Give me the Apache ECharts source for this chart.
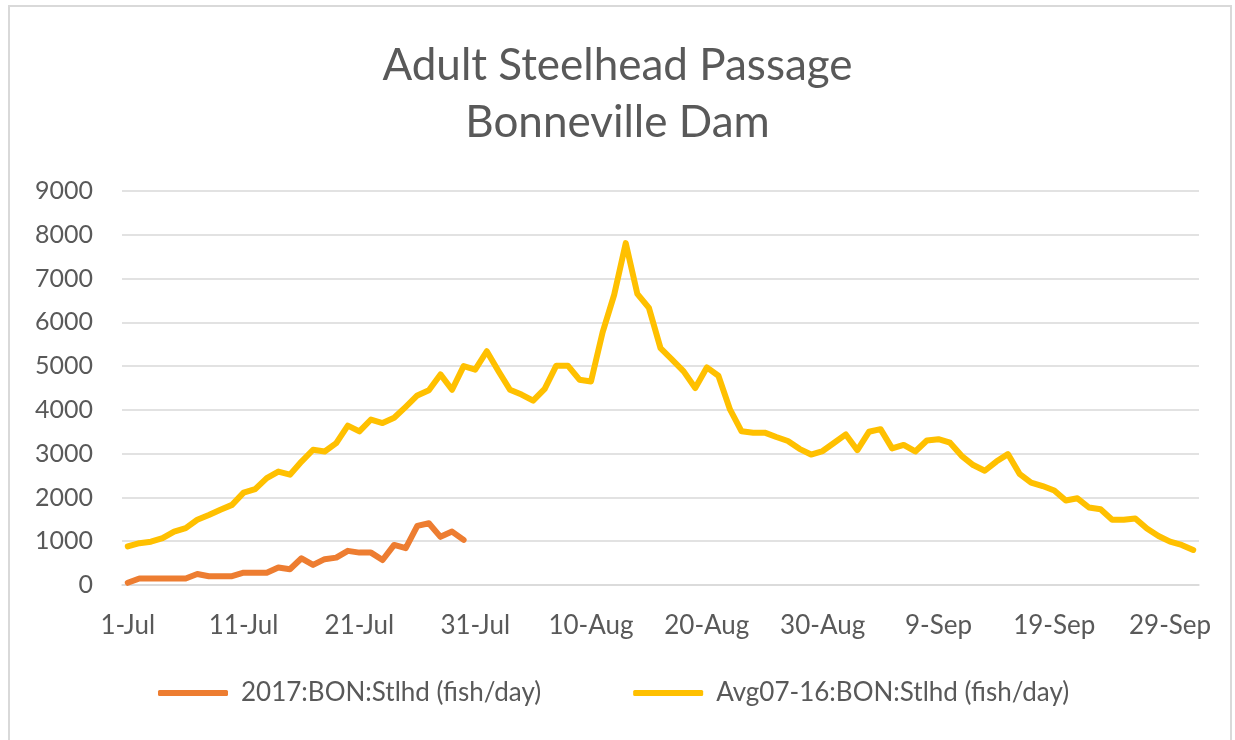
<!DOCTYPE html>
<html>
<head>
<meta charset="utf-8">
<title>Adult Steelhead Passage</title>
<script src="https://cdn.jsdelivr.net/npm/echarts@6/dist/echarts.min.js"></script>
<style>
  html, body { margin: 0; padding: 0; background: #fff; }
  #chart { width: 1235px; height: 740px; }
</style>
</head>
<body>
<div id="chart"></div>
<script>
// daily counts, 1-Jul .. 1-Oct
const months = ['Jul', 'Aug', 'Sep', 'Oct'];
const monthDays = [31, 31, 30, 1];

const y2017 = [
  50, 150, 150, 150, 150, 150, 250, 200, 200, 200,
  280, 280, 280, 400, 360, 610, 460, 590, 625, 780,
  740, 740, 570, 915, 840, 1350, 1410, 1100, 1220, 1030
];

const avg0716 = [
  880, 955, 990, 1070, 1220, 1300, 1490, 1600, 1720, 1830,
  2110, 2190, 2440, 2590, 2520, 2820, 3090, 3050, 3240, 3640,
  3510, 3780, 3700, 3820, 4070, 4330, 4450, 4810, 4460, 5000,
  4920, 5340, 4890, 4460, 4350, 4210, 4480, 5010, 5010, 4690,
  4650, 5770, 6630, 7810, 6650, 6330, 5410, 5150, 4880, 4500,
  4970, 4780, 4010, 3510, 3480, 3480, 3380, 3290, 3110, 2980,
  3060, 3250, 3440, 3080, 3500, 3560, 3120, 3200, 3050, 3300,
  3330, 3250, 2950, 2740, 2610, 2820, 2990, 2540, 2340, 2260,
  2160, 1930, 1980, 1770, 1730, 1490, 1490, 1520, 1290, 1120,
  990, 915, 800
];

const yTicks = [0, 9000, 1000]; // min, max, step

// build d-Mon labels
const days = [];
months.forEach((m, k) => {
  for (let d = 1; d <= monthDays[k]; d++) days.push(d + '-' + m);
});

const font = 'Lato, "Open Sans", sans-serif';
const grey = '#595959';

let myChart = echarts.init(document.getElementById('chart'));
let option = {
  animation: false,
  title: {
    text: 'Adult Steelhead Passage\nBonneville Dam',
    left: 'center',
    top: 32,
    textStyle: {
      fontFamily: font,
      fontWeight: 400,
      fontSize: 44,
      lineHeight: 57,
      color: grey
    }
  },
  legend: {
    left: 153,
    top: 675,
    itemWidth: 70,
    itemHeight: 6,
    itemGap: 92,
    icon: 'roundRect',
    textStyle: {
      fontFamily: font,
      fontSize: 26,
      color: grey,
      padding: [0, 0, 0, 8]
    },
    data: ['2017:BON:Stlhd (fish/day)', 'Avg07-16:BON:Stlhd (fish/day)']
  },
  grid: {
    left: 122,
    right: 36,
    top: 191,
    bottom: 155,
    containLabel: false
  },
  xAxis: {
    type: 'category',
    boundaryGap: true,
    data: days,
    axisLine: { lineStyle: { color: '#d9d9d9', width: 1.5 } },
    axisTick: {
      interval: 9,
      length: 10,
      lineStyle: { color: '#d9d9d9', width: 1.5 }
    },
    axisLabel: {
      interval: 9,
      margin: 28,
      fontFamily: font,
      fontSize: 26,
      color: grey
    },
    splitLine: { show: false }
  },
  yAxis: {
    type: 'value',
    min: yTicks[0],
    max: yTicks[1],
    interval: yTicks[2],
    axisLine: { show: false },
    axisTick: { show: false },
    axisLabel: {
      margin: 29,
      fontFamily: font,
      fontSize: 25,
      color: grey,
      formatter: v => String(v)
    },
    splitLine: { lineStyle: { color: '#d9d9d9', width: 1.5 } }
  },
  series: [
    {
      name: '2017:BON:Stlhd (fish/day)',
      type: 'line',
      data: y2017,
      symbol: 'none',
      color: '#ED7D31',
      lineStyle: { width: 6, cap: 'round', join: 'round' }
    },
    {
      name: 'Avg07-16:BON:Stlhd (fish/day)',
      type: 'line',
      data: avg0716,
      symbol: 'none',
      color: '#FFC000',
      lineStyle: { width: 6, cap: 'round', join: 'round' }
    }
  ],
  graphic: [
    {
      type: 'rect',
      shape: { x: 9, y: 6, width: 1222, height: 760 },
      style: { fill: 'none', stroke: '#d9d9d9', lineWidth: 2 },
      silent: true
    }
  ]
};
myChart.setOption(option);
</script>
</body>
</html>
